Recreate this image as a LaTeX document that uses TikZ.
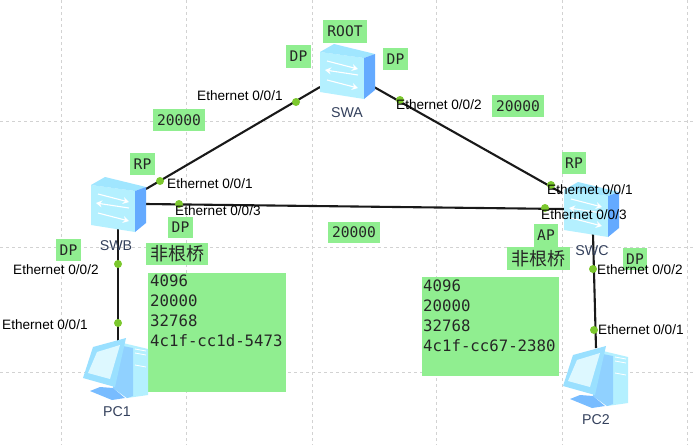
\documentclass[tikz,border=0pt]{standalone}
\usepackage{fontspec}
\setmainfont{Liberation Sans}
\setmonofont{DejaVu Sans Mono}
\newfontfamily\cjk{Noto Sans CJK SC}
\usetikzlibrary{arrows.meta}
\definecolor{boxgreen}{HTML}{90EE90}
\definecolor{dotgreen}{HTML}{7CC82E}
\definecolor{gridgrey}{HTML}{D2D2D2}
\definecolor{devfront}{HTML}{B4F0FF}
\definecolor{devtop}{HTML}{A0E6FF}
\definecolor{devside}{HTML}{64AAFF}
\definecolor{devmid}{HTML}{78BCFF}
\definecolor{devname}{HTML}{33405C}
\tikzset{
  gbox/.style={fill=boxgreen,inner sep=0pt,font=\ttfamily\fontsize{14.6}{15}\selectfont,text=black!85},
  eth/.style={anchor=west,inner sep=0pt,font=\fontsize{13.6}{14}\selectfont,text=black},
  devlabel/.style={inner sep=0pt,font=\fontsize{14.2}{14}\selectfont,text=devname},
  link/.style={line width=2.1pt,black!90},
  port/.style={circle,fill=dotgreen,inner sep=0pt,minimum size=8pt},
  gridline/.style={gridgrey,dashed,line width=.8pt},
  datatext/.style={anchor=north west,inner sep=0pt,align=left,font=\ttfamily\fontsize{15.7}{20}\selectfont,text=black!85},
  switchicon/.pic={
    \fill[devfront] (0,0) -- (44,6) -- (44,47) -- (0,40) -- cycle;
    \fill[devtop] (0,0) -- (14,-8) -- (55,2) -- (44,6) -- cycle;
    \fill[devside] (44,6) -- (55,2) -- (55,38) -- (44,47) -- cycle;
    \draw[white,line width=1.1pt,-{Stealth[length=6pt,width=7pt]}] (7,9) -- (38,17);
    \draw[white,line width=1.1pt,-{Stealth[length=6pt,width=7pt]}] (38,23) -- (5,18);
    \draw[white,line width=1.1pt,-{Stealth[length=6pt,width=7pt]}] (7,28) -- (38,36);
  },
  pcicon/.pic={
    \fill[devfront] (40,5) -- (65,11) -- (65,57) -- (44,60) -- (30,50) -- cycle;
    \fill[devmid!60!devfront] (40,8) -- (50,10) -- (50,58) -- (44,60) -- (30,50) -- cycle;
    \draw[white,line width=.8pt] (52,11) -- (63,13) (52,15) -- (63,17) (52,27) -- (63,29);
    \fill[devmid] (7,53) -- (17,49) -- (30,50) -- (42,60) -- (29,62) -- cycle;
    \fill[devtop!85!devmid] (10,9) -- (43,0) -- (32,49) -- (0,40) -- cycle;
    \fill[devfront!45!white] (14,14) -- (37,7) -- (27,41) -- (5,35) -- cycle;
  }
}
\begin{document}
\begin{tikzpicture}[x=1pt,y=-1pt]
\useasboundingbox (0,0) rectangle (696,445);
\fill[white] (0,0) rectangle (696,445);
% grid
\foreach \gx in {61,186,312,436,562,687} \draw[gridline] (\gx,0) -- (\gx,445);
\foreach \gy in {121,247,372} \draw[gridline] (0,\gy) -- (696,\gy);
% green boxes
\node[gbox,minimum width=44pt,minimum height=23pt] (root) at (345,31.5) {ROOT};
\node[gbox,minimum width=25pt,minimum height=23pt] (dpa1) at (298.5,56.5) {DP};
\node[gbox,minimum width=25pt,minimum height=22pt] (dpa2) at (395.5,59) {DP};
\node[gbox,minimum width=52pt,minimum height=22pt] (cost1) at (179,120) {20000};
\node[gbox,minimum width=52pt,minimum height=22pt] (cost2) at (518,106) {20000};
\node[gbox,minimum width=52pt,minimum height=21pt] (cost3) at (354,232.5) {20000};
\node[gbox,minimum width=25pt,minimum height=22pt] (rpb) at (142.5,164) {RP};
\node[gbox,minimum width=25pt,minimum height=21pt] (dpb3) at (180.5,227.5) {DP};
\node[gbox,minimum width=25pt,minimum height=22pt] (dpb2) at (68.5,250) {DP};
\node[gbox,minimum width=62pt,minimum height=22pt,font=\cjk\fontsize{18}{18}\selectfont] (nrb) at (177,254) {非根桥};
\node[gbox,minimum width=138pt,minimum height=119pt] (infob) at (217,332.5) {};
\node[gbox,minimum width=137pt,minimum height=99pt] (infoc) at (490.5,326.5) {};
\node[gbox,minimum width=24pt,minimum height=22pt] (rpc) at (574,163) {RP};
\node[gbox,minimum width=24pt,minimum height=23pt] (apc) at (546,235.5) {AP};
\node[gbox,minimum width=63pt,minimum height=23pt,font=\cjk\fontsize{18}{18}\selectfont] (nrc) at (538.5,258.5) {非根桥};
\node[gbox,minimum width=24pt,minimum height=22pt] (dpc2) at (635,259) {DP};
\node[datatext] (datab) at (150,275) {4096\\20000\\32768\\4c1f-cc1d-5473};
\node[datatext] (datac) at (423,279.5) {4096\\20000\\32768\\4c1f-cc67-2380};
% connector ends
\coordinate (swaw) at (320,87);
\coordinate (swae) at (374,87);
\coordinate (swbn) at (146,189);
\coordinate (swbe) at (146,204);
\coordinate (swbs) at (118,229);
\coordinate (swcw) at (564,209);
\coordinate (swcn) at (562,193);
\coordinate (swcs) at (593,234);
\coordinate (pc1n) at (118,342);
\coordinate (pc2n) at (596,348);
% links
\draw[link] (swaw) -- (swbn);
\draw[link] (swae) -- (swcn);
\draw[link] (swbe) -- (swcw);
\draw[link] (swbs) -- (pc1n);
\draw[link] (swcs) -- (pc2n);
% devices
\pic at (320,52) {switchicon};
\pic at (91,185) {switchicon};
\pic at (564,190) {switchicon};
\pic at (83,338) {pcicon};
\pic at (563,346) {pcicon};
% ports
\node[port] (p1) at (296,102) {};
\node[port] (p2) at (400,100) {};
\node[port] (p3) at (160,181) {};
\node[port] (p4) at (179,204) {};
\node[port] (p5) at (118,264) {};
\node[port] (p6) at (118,323) {};
\node[port] (p7) at (551,185) {};
\node[port] (p8) at (545,208) {};
\node[port] (p9) at (593,269) {};
\node[port] (p10) at (594,330) {};
% device names
\node[devlabel] (swa) at (347,113) {SWA};
\node[devlabel] (swb) at (116,246) {SWB};
\node[devlabel] (swc) at (592,251) {SWC};
\node[devlabel] (pc1) at (117,412) {PC1};
\node[devlabel] (pc2) at (596,420) {PC2};
% port names
\node[eth] (e1) at (197,96) {Ethernet 0/0/1};
\node[eth] (e2) at (396,105) {Ethernet 0/0/2};
\node[eth] (e3) at (167,184) {Ethernet 0/0/1};
\node[eth] (e4) at (175,211) {Ethernet 0/0/3};
\node[eth] (e5) at (13,270) {Ethernet 0/0/2};
\node[eth] (e6) at (2,325) {Ethernet 0/0/1};
\node[eth] (e7) at (547,190) {Ethernet 0/0/1};
\node[eth] (e8) at (541,215) {Ethernet 0/0/3};
\node[eth] (e9) at (597,270) {Ethernet 0/0/2};
\node[eth] (e10) at (598,330) {Ethernet 0/0/1};
\end{tikzpicture}
\end{document}
